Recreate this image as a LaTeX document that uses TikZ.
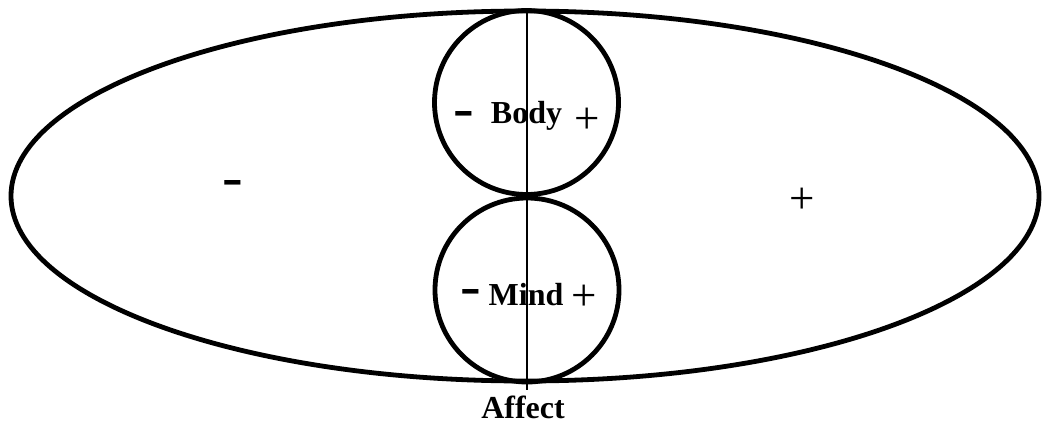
\documentclass[tikz,border=0pt]{standalone}
\usepackage{fontspec}
\setmainfont{Liberation Serif}
\begin{document}
\begin{tikzpicture}[x=1pt,y=-1pt,
  thickline/.style={line width=4.8pt},
  ring/.style={draw, circle, line width=4.8pt, minimum size=184pt, inner sep=0pt},
  word/.style={font=\fontsize{32}{38}\selectfont\bfseries, inner sep=0pt, anchor=base},
  minus/.style={font=\fontsize{54}{60}\selectfont\bfseries, inner sep=0pt, anchor=base, xscale=1.15},
  plus/.style={font=\fontsize{45}{50}\selectfont, inner sep=0pt, anchor=base}]
\useasboundingbox (0,0) rectangle (1042,423);
\draw[thickline] (525,196) ellipse [x radius=514, y radius=185];
\node[ring] (body) at (526.5,102.5) {};
\node[ring] (mind) at (527,290) {};
\coordinate (ltop) at (526.7,8);
\coordinate (lbot) at (526.7,390);
\draw[line width=2pt] (ltop) -- (lbot);
\node[word] (tbody) at (526.5,123) {Body};
\node[word] (tmind) at (526,305) {Mind};
\node[word] (taffect) at (523,418) {Affect};
\node[minus] (m1) at (464.2,126.5) {-};
\node[minus] (m2) at (470.5,304.2) {-};
\node[minus] (m3) at (233,195.5) {-};
\node[plus] (p1) at (587,133) {+};
\node[plus] (p2) at (584.5,310.7) {+};
\node[plus] (p3) at (802.5,213) {+};
\end{tikzpicture}
\end{document}
